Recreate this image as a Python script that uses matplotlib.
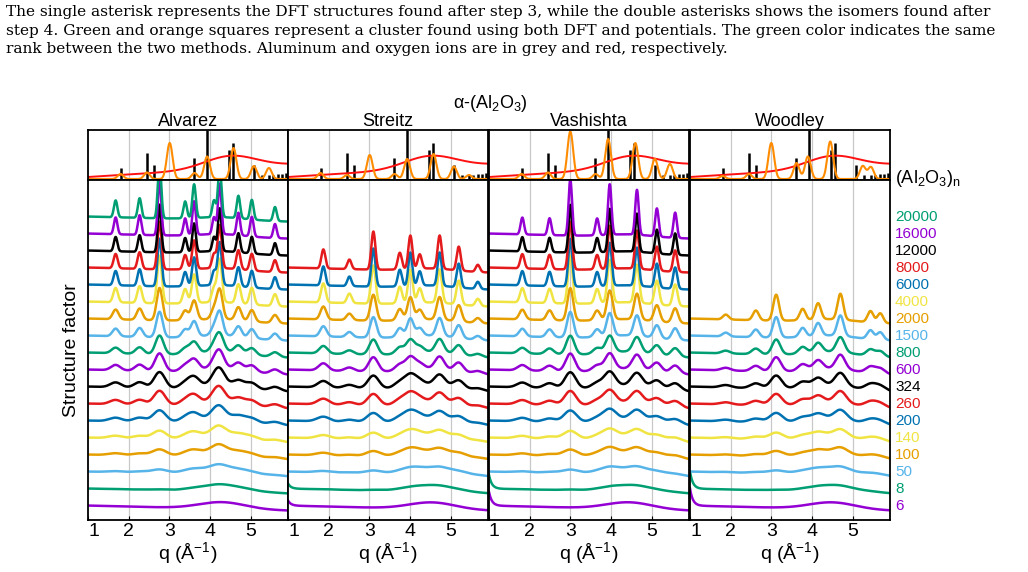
import numpy as np
import matplotlib
matplotlib.use("Agg")
import matplotlib.pyplot as plt

plt.rcParams["font.family"] = ["Liberation Sans", "DejaVu Sans"]
plt.rcParams["mathtext.fontset"] = "custom"
plt.rcParams["mathtext.rm"] = "Liberation Sans"
plt.rcParams["mathtext.it"] = "Liberation Sans"

models = ["Alvarez", "Streitz", "Vashishta", "Woodley"]
sizes = [6, 8, 50, 100, 140, 200, 260, 324, 600, 800, 1500, 2000, 4000, 6000, 8000, 12000, 16000, 20000]
size_colors = ["#9400D3", "#009E73", "#56B4E9", "#E69F00", "#F0E442", "#0072B2", "#E41A1C", "#000000"] * 3
amp_scale = [0.0, 0.05, 0.22, 0.4, 0.5, 0.7, 0.85, 0.95, 1.05, 1.1, 1.5, 1.9, 2.8, 2.8, 2.8, 2.8, 3.3, 3.3]
peak_width = [0.30, 0.30, 0.28, 0.25, 0.24, 0.22, 0.20, 0.19, 0.16, 0.14, 0.11, 0.10, 0.08, 0.07, 0.07, 0.06, 0.06, 0.06]
max_size = {"Alvarez": 20000, "Streitz": 8000, "Vashishta": 16000, "Woodley": 2000}
peak_pos = {
    "Alvarez": [1.68, 2.27, 2.76, 3.39, 3.61, 4.10, 4.24, 4.70, 5.03, 5.60],
    "Streitz": [1.87, 2.51, 3.10, 3.75, 4.01, 4.24, 4.73, 5.20, 5.67],
    "Vashishta": [1.82, 2.49, 3.00, 3.66, 3.97, 4.64, 5.13, 5.58],
    "Woodley": [1.88, 2.62, 3.12, 3.77, 4.15, 4.70, 5.44, 5.68],
}
peak_rel = {
    "Alvarez": [0.3, 0.35, 1.0, 0.3, 0.6, 0.3, 0.9, 0.4, 0.35, 0.25],
    "Streitz": [0.4, 0.2, 0.8, 0.35, 0.7, 0.3, 0.7, 0.5, 0.15],
    "Vashishta": [0.3, 0.3, 1.0, 0.3, 0.9, 0.8, 0.5, 0.45],
    "Woodley": [0.15, 0.3, 0.8, 0.35, 0.5, 0.8, 0.35, 0.3],
}
hump_center = {"Alvarez": 4.3, "Streitz": 4.55, "Vashishta": 4.45, "Woodley": 4.5}
lowq_rise = {"Alvarez": 0.0, "Streitz": 0.3, "Vashishta": 0.8, "Woodley": 1.0}

stick_q = [1.80, 2.45, 2.62, 3.60, 3.92, 4.48, 4.56, 5.08, 5.27, 5.45, 5.55, 5.68, 5.78, 5.86]
stick_h = [0.25, 0.55, 0.30, 0.45, 1.00, 0.60, 0.75, 0.30, 0.10, 0.10, 0.10, 0.12, 0.12, 0.15]
orange_q = {
    "Alvarez": [1.80, 2.45, 3.01, 3.62, 3.93, 4.58, 5.08, 5.45],
    "Streitz": [1.80, 2.45, 3.01, 3.62, 3.93, 4.58, 5.08, 5.45],
    "Vashishta": [1.80, 2.45, 3.00, 3.62, 3.93, 4.60, 5.08, 5.45],
    "Woodley": [1.80, 2.45, 3.00, 3.62, 3.90, 4.45, 5.25, 5.45],
}
orange_h = {
    "Alvarez": [0.10, 0.13, 0.72, 0.12, 0.45, 0.62, 0.26, 0.22],
    "Streitz": [0.12, 0.08, 0.48, 0.10, 0.40, 0.50, 0.25, 0.08],
    "Vashishta": [0.10, 0.13, 0.95, 0.10, 0.80, 0.72, 0.40, 0.30],
    "Woodley": [0.06, 0.10, 0.72, 0.32, 0.45, 0.75, 0.26, 0.24],
}

caption = [
    "The single asterisk represents the DFT structures found after step 3, while the double asterisks shows the isomers found after",
    "step 4. Green and orange squares represent a cluster found using both DFT and potentials. The green color indicates the same",
    "rank between the two methods. Aluminum and oxygen ions are in grey and red, respectively.",
]

fig = plt.figure(figsize=(10.28, 5.72), dpi=100)
W, H = 1028, 572
for i, line in enumerate(caption):
    fig.text(6 / W, 1 - (12 + 18.5 * i) / H, line, family="DejaVu Serif", fontsize=11.1, va="center", ha="left")

q = np.linspace(1, 5.92, 1200)
xlefts = [88, 288, 489, 690]
pw = 200
for m, model in enumerate(models):
    x0 = xlefts[m]
    axt = fig.add_axes([x0 / W, 1 - 180 / H, pw / W, 50 / H])
    ax = fig.add_axes([x0 / W, 1 - 520 / H, pw / W, 340 / H])
    for a in (axt, ax):
        a.set_xlim(1, 5.92)
        for g in [2, 3, 4, 5]:
            a.axvline(g, color="#c8c8c8", lw=0.9, zorder=0)
        for s in a.spines.values():
            s.set_linewidth(1.3)
        a.set_yticks([])
    axt.set_ylim(0, 1.0)
    axt.set_xticks([])
    axt.vlines(stick_q, 0, stick_h, color="black", lw=1.8)
    red = 0.06 + 0.1 * (q - 1) / 2 + 0.25 * np.exp(-((q - 4.5) / 0.9) ** 2)
    axt.plot(q, red, color="#FF1010", lw=1.4)
    org = 0.02 + np.zeros_like(q)
    for pq, ph in zip(orange_q[model], orange_h[model]):
        org += ph * np.exp(-((q - pq) / 0.1) ** 2)
    axt.plot(q, org, color="#FF8C00", lw=1.5)
    axt.set_title(model, fontsize=13, pad=2)
    ax.set_ylim(0, 20)
    ax.set_xticks([1, 2, 3, 4, 5])
    ax.set_xticklabels(["1", "2", "3", "4", "5"], fontsize=14)
    ax.tick_params(axis="x", direction="in", length=3, pad=2)
    for lbl in ax.get_xticklabels()[:1]:
        lbl.set_horizontalalignment("left")
    ax.set_xlabel("q (Å$^{-1}$)", fontsize=14, labelpad=0)
    for i, sz in enumerate(sizes):
        if sz > max_size[model]:
            continue
        crys = min(1.0, amp_scale[i] / 2.0)
        y = 0.85 + i - 0.06 * (q - 1)
        y += (0.4 * (1 - 0.6 * crys)) * np.exp(-((q - hump_center[model]) / 0.8) ** 2)
        if i < 2:
            y += lowq_rise[model] * np.exp(-(q - 1) / 0.07)
        for pq, pr in zip(peak_pos[model], peak_rel[model]):
            y += amp_scale[i] * pr * np.exp(-((q - pq) / peak_width[i]) ** 2)
        ax.plot(q, y, color=size_colors[i], lw=1.8, clip_on=True)

fig.text(490 / W, 1 - 103 / H, "α-(Al$_2$O$_3$)", fontsize=13, ha="center", va="center")
fig.text(72 / W, 1 - 350 / H, "Structure factor", fontsize=14, rotation=90, ha="center", va="center")
fig.text(895 / W, 1 - 178 / H, "(Al$_2$O$_3$)$_n$", fontsize=13, ha="left", va="center")
for i, sz in enumerate(sizes):
    ypix = 520 - (0.85 + i) * 17
    fig.text(895 / W, 1 - ypix / H, str(sz), color=size_colors[i], fontsize=11, ha="left", va="center")

fig.savefig("out.png", dpi=100)
